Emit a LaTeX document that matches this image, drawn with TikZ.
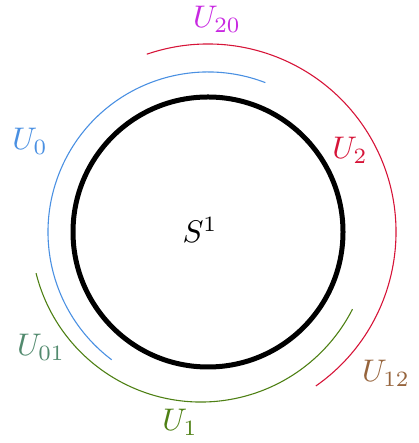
\documentclass[tikz,border=0pt]{standalone}
\usepackage{xcolor}
\usepackage{tikz}
\usetikzlibrary{positioning, calc}
\definecolor{cblue}{RGB}{74,144,226}
\definecolor{cred}{RGB}{214,20,56}
\definecolor{cgreen}{RGB}{78,128,20}
\definecolor{cmag}{RGB}{200,40,225}
\definecolor{cteal}{RGB}{82,138,110}
\definecolor{cbrown}{RGB}{150,100,60}

\begin{document}
\begin{tikzpicture}[
  x=0.32pt, y=0.32pt,
  base/.style={circle, draw=black, line width=1.6pt, minimum size=86.4pt, inner sep=0pt},
  arcl/.style={line width=0.35pt},
  lbl/.style={font=\normalsize}
]
\useasboundingbox (-208,-211) rectangle (210,232);

% the circle
\node[base] (s1) at (0,0) {};
\node[lbl] (s1lbl) at (-8,2) {$S^1$};

% open cover
\coordinate (o) at (0,0);
\coordinate (og) at (-7,0);
\draw[arcl, cblue] ($(o)+(69:160)$) arc[start angle=69, end angle=233, radius=160];
\draw[arcl, cred] ($(o)+(-55:188)$) arc[start angle=-55, end angle=109, radius=188];
\draw[arcl, cgreen] ($(og)+(194:170)$) arc[start angle=194, end angle=333, radius=170];

% labels
\node[lbl, cmag] (u20) at (9,213) {$U_{20}$};
\node[lbl, cblue] (u0) at (-178,91) {$U_0$};
\node[lbl, cred] (u2) at (142,82) {$U_2$};
\node[lbl, cteal] (u01) at (-167,-115) {$U_{01}$};
\node[lbl, cgreen] (u1) at (-28,-190) {$U_1$};
\node[lbl, cbrown] (u12) at (178,-141) {$U_{12}$};

\end{tikzpicture}
\end{document}
